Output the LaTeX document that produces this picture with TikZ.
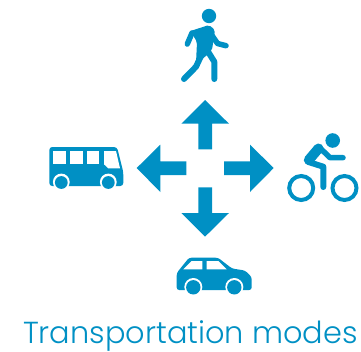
\documentclass[tikz,border=0pt]{standalone}
\usepackage{fontspec}
\setmainfont{Poppins Light}
\definecolor{tblue}{HTML}{0090C4}
\tikzset{
  solid shape/.style={fill=tblue,draw=none},
  hole/.style={fill=white,draw=none},
  limb/.style={draw=tblue,line width=6pt,line cap=round,line join=round},
  blockarrow/.style={fill=tblue,draw=none},
  wheelrim/.style={draw=tblue,line width=4pt,fill=none},
  title/.style={text=tblue,font=\fontsize{30.4pt}{32pt}\selectfont,inner sep=0pt,anchor=base}
}
\begin{document}
\begin{tikzpicture}[x=1pt,y=-1pt]
\useasboundingbox (0,0) rectangle (361,351);
% arrows
\fill[blockarrow] (205,100) -- (229,123.7) -- (212,123.7) -- (212,149.3) -- (198.3,149.3) -- (198.3,123.7) -- (181.3,123.7) -- cycle;
\fill[blockarrow] (205,236.7) -- (229,213) -- (212,213) -- (212,187.3) -- (198.3,187.3) -- (198.3,213) -- (181.3,213) -- cycle;
\fill[blockarrow] (136.7,168) -- (160.3,144.7) -- (160.3,161.3) -- (186.3,161.3) -- (186.3,175) -- (160.3,175) -- (160.3,192) -- cycle;
\fill[blockarrow] (273.7,168) -- (250,144.7) -- (250,161.3) -- (224,161.3) -- (224,175) -- (250,175) -- (250,192) -- cycle;
% walker
\fill[solid shape] (209,16) circle (7.2);
\fill[solid shape,rounded corners=2pt] (190.5,31) -- (209,25) -- (215,30) -- (212,50) -- (205,57) -- (196,63) -- (197,42) -- cycle;
\draw[limb,line width=5.5pt] (192,33) -- (187.3,44);
\draw[limb,line width=5.5pt] (211,34) -- (217.5,43.5) -- (226,45.7);
\draw[limb] (207,50) -- (214.3,61.7) -- (214.3,79);
\draw[limb] (201,56) -- (196,66.7) -- (184,79);
% bus
\fill[solid shape,rounded corners=3pt] (49.3,147) -- (117,147) -- (123.3,172) -- (123.3,186) -- (49.3,186) -- cycle;
\fill[hole] (53.3,151) rectangle (66,164.3);
\fill[hole] (70,151) rectangle (82.7,164.3);
\fill[hole] (86.7,151) rectangle (99.3,164.3);
\fill[hole] (104,151) -- (116,151) -- (120,168.3) -- (108.3,168.3) -- (104,164.3) -- cycle;
\fill[hole] (61.3,182) circle (8.4);
\fill[hole] (108.3,182) circle (8.4);
\fill[hole] (50,187) rectangle (124,192);
\fill[solid shape] (61.3,182.5) circle (6.4);
\fill[solid shape] (108.3,182.5) circle (6.4);
% cyclist
\fill[solid shape] (332.7,140.5) circle (7.3);
\draw[wheelrim] (301.2,188) circle (12);
\draw[wheelrim] (344.5,188) circle (12);
\draw[limb,line width=10pt] (318.5,148.5) -- (308.8,160);
\draw[limb] (308.5,162) -- (323.3,166.7) -- (323.3,187);
\draw[limb,line width=5.5pt] (320,148) -- (330,157.7) -- (343,157.7);
% car
\fill[solid shape,rounded corners=2.5pt] (176.7,290) -- (176.7,273) -- (189,257.7) -- (218,257.7) -- (232,268.5) -- (245,270.5) -- (251.7,277) -- (251.7,290) -- cycle;
\fill[hole] (183.3,269.3) -- (191.7,261) -- (202.3,261) -- (202.3,269.3) -- cycle;
\fill[hole] (206.7,261) -- (218.3,261) -- (226.7,269.3) -- (206.7,269.3) -- cycle;
\fill[hole] (193.3,287) circle (9);
\fill[hole] (234.3,287) circle (9);
\fill[solid shape] (193.3,287.3) circle (7.2);
\fill[solid shape] (234.3,287.3) circle (7.2);
% caption
\node[title] (caption) at (190.5,343) {Transportation modes};
\end{tikzpicture}
\end{document}
